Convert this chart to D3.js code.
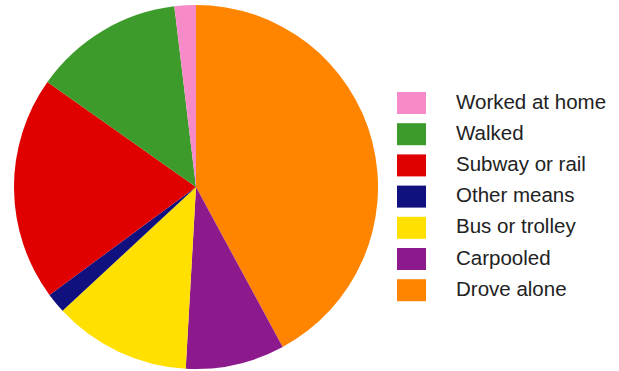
<!DOCTYPE html>
<html>
<head>
<meta charset="utf-8">
<script src="https://cdn.jsdelivr.net/npm/d3@7"></script>
<style>
  html, body { margin: 0; padding: 0; background: #fff; }
  svg { display: block; }
</style>
</head>
<body>
<div id="chart"></div>
<script>
// clockwise from 12 o'clock
var categories = ['Drove alone', 'Carpooled', 'Bus or trolley', 'Other means', 'Subway or rail', 'Walked', 'Worked at home'];
var shares = [42.1, 8.8, 12.2, 1.8, 19.9, 13.3, 1.9];
var colors = ['#ff8400', '#8c1a8c', '#ffe000', '#10107f', '#e00000', '#3d9b2b', '#f78ac8'];

var width = 619, height = 371;
var cx = 196, cy = 187, radius = 182;

var svg = d3.select('#chart').append('svg')
  .attr('width', width).attr('height', height);

var data = categories.map(function (c, i) { return { name: c, value: shares[i], color: colors[i] }; });

var pie = d3.pie().sort(null).value(function (d) { return d.value; });
var arc = d3.arc().innerRadius(0).outerRadius(radius);

svg.append('g')
  .attr('transform', 'translate(' + cx + ',' + cy + ')')
  .selectAll('path')
  .data(pie(data))
  .enter().append('path')
  .attr('d', arc)
  .attr('fill', function (d) { return d.data.color; });

// Legend (reverse order, top to bottom)
var legendData = data.slice().reverse();
var legend = svg.append('g').attr('transform', 'translate(397,92)');
var pitch = 31.2;

legendData.forEach(function (d, i) {
  legend.append('rect')
    .attr('x', 0).attr('y', i * pitch)
    .attr('width', 29).attr('height', 22)
    .attr('fill', d.color);
  legend.append('text')
    .attr('x', 59).attr('y', i * pitch + 16.5)
    .style('font-family', 'Liberation Sans, Arial, sans-serif')
    .style('font-size', '20.5px')
    .style('fill', '#222')
    .text(d.name);
});
</script>
</body>
</html>
